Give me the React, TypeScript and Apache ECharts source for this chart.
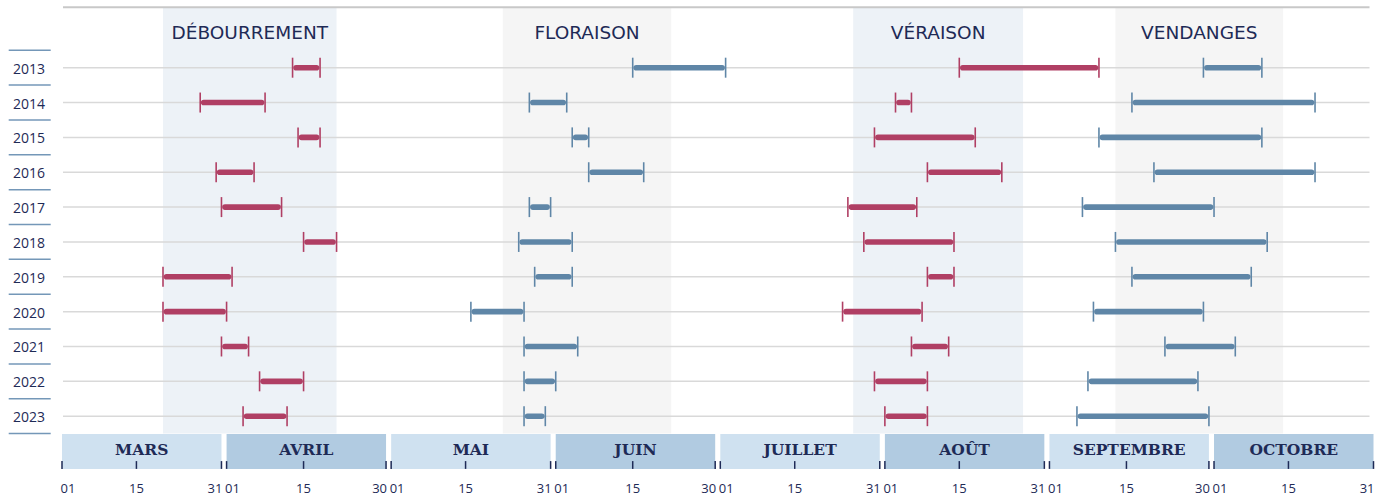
import React, { useEffect, useRef } from "react";
import * as echarts from "echarts";

// ---------- DATA ----------
const YEARS = ["2013", "2014", "2015", "2016", "2017", "2018", "2019", "2020", "2021", "2022", "2023"];
const MONTHS = ["MARS", "AVRIL", "MAI", "JUIN", "JUILLET", "AOÛT", "SEPTEMBRE", "OCTOBRE"];
const MONTH_DAYS = [31, 30, 31, 30, 31, 31, 30, 31];
const DAY_TICKS = [1, 15]; // plus the last day of each month
const PHASES = ["DÉBOURREMENT", "FLORAISON", "VÉRAISON", "VENDANGES"];
const PHASE_WINDOWS = [
  ["03-20", "04-21"],
  ["05-22", "06-22"],
  ["07-26", "08-27"],
  ["09-13", "10-14"],
];
const DEBOURREMENT = [
  ["04-13", "04-18"], ["03-27", "04-08"], ["04-14", "04-18"], ["03-30", "04-06"],
  ["03-31", "04-11"], ["04-15", "04-21"], ["03-20", "04-02"], ["03-20", "04-01"],
  ["03-31", "04-05"], ["04-07", "04-15"], ["04-04", "04-12"],
];
const FLORAISON = [
  ["06-15", "07-02"], ["05-27", "06-03"], ["06-04", "06-07"], ["06-07", "06-17"],
  ["05-27", "05-31"], ["05-25", "06-04"], ["05-28", "06-04"], ["05-16", "05-26"],
  ["05-26", "06-05"], ["05-26", "06-01"], ["05-26", "05-30"],
];
const VERAISON = [
  ["08-15", "09-10"], ["08-03", "08-06"], ["07-30", "08-18"], ["08-09", "08-23"],
  ["07-25", "08-07"], ["07-28", "08-14"], ["08-09", "08-14"], ["07-24", "08-08"],
  ["08-06", "08-13"], ["07-30", "08-09"], ["08-01", "08-09"],
];
const VENDANGES = [
  ["09-29", "10-10"], ["09-16", "10-20"], ["09-10", "10-10"], ["09-20", "10-20"],
  ["09-07", "10-01"], ["09-13", "10-11"], ["09-16", "10-08"], ["09-09", "09-29"],
  ["09-22", "10-05"], ["09-08", "09-28"], ["09-06", "09-30"],
];
const PHASE_DATA = [DEBOURREMENT, FLORAISON, VERAISON, VENDANGES];

// ---------- SCALE HELPERS ----------
const FIRST_MONTH = 3;
const W = 0.969; // fraction of a month slot used by the month (rest is the gap)
const X_MAX = MONTHS.length - 1 + W;
const Y_MIN = -1.713;
const Y_MAX = YEARS.length - 0.5;

function dayVal(m: number, d: number) {
  return m + ((d - 1) / (MONTH_DAYS[m] - 1)) * W;
}
function toVal(md: string) {
  const [mm, dd] = md.split("-").map(Number);
  return dayVal(mm - FIRST_MONTH, dd);
}

const NAVY = "#1e2a56";
const RED = "#b03f64";
const BLUE = "#5f86a7";

export default function App() {
  const ref = useRef<HTMLDivElement>(null);
  useEffect(() => {
    if (!ref.current) return;
    const chart = echarts.init(ref.current, undefined, { renderer: "svg" });

    const bandData = PHASE_WINDOWS.map((w, i) => [toVal(w[0]), toVal(w[1]), i]);
    const rowData = YEARS.map((_, i) => [0, i]);
    const barData: number[][] = [];
    PHASE_DATA.forEach((arr, p) =>
      arr.forEach((r, i) => barData.push([toVal(r[0]), toVal(r[1]), i, p]))
    );
    const monthData = MONTHS.map((_, i) => [i, i + W]);
    const tickData: any[] = [];
    MONTHS.forEach((_, m) => {
      const days = [...DAY_TICKS, MONTH_DAYS[m]];
      days.forEach((d, k) => tickData.push([dayVal(m, d), d, k]));
    });

    const option: any = {
      animation: false,
      backgroundColor: "#ffffff",
      grid: { left: 62, top: 8, width: 1311.5, height: 425.6 },
      xAxis: { type: "value", min: 0, max: X_MAX, show: false },
      yAxis: { type: "value", min: Y_MIN, max: Y_MAX, inverse: true, show: false },
      series: [
        {
          type: "custom",
          name: "phases",
          silent: true,
          clip: false,
          z: 1,
          data: bandData,
          renderItem: (params: any, api: any) => {
            const p0 = api.coord([api.value(0), Y_MIN]);
            const p1 = api.coord([api.value(1), Y_MAX]);
            const i = params.dataIndex;
            return {
              type: "group",
              children: [
                {
                  type: "rect",
                  shape: { x: p0[0], y: p0[1], width: p1[0] - p0[0], height: p1[1] - p0[1] },
                  style: { fill: i % 2 === 0 ? "#edf2f7" : "#f5f5f5" },
                },
                {
                  type: "text",
                  x: (p0[0] + p1[0]) / 2,
                  y: p0[1] + 24.5,
                  style: {
                    text: PHASES[i],
                    fill: NAVY,
                    font: '18.5px "DejaVu Sans"',
                    align: "center",
                    verticalAlign: "middle",
                    textAlign: "center",
                    textVerticalAlign: "middle",
                  },
                },
              ],
            };
          },
        },
        {
          type: "custom",
          name: "rows",
          silent: true,
          clip: false,
          z: 2,
          data: rowData,
          renderItem: (params: any, api: any) => {
            const i = params.dataIndex;
            const cs = params.coordSys;
            const a = api.coord([0, api.value(1)]);
            const b = api.coord([X_MAX, api.value(1)]);
            const sepTop = api.coord([0, api.value(1) - 0.5]);
            const sepBot = api.coord([0, api.value(1) + 0.5]);
            const children: any[] = [
              {
                type: "line",
                shape: { x1: a[0] + 1, y1: a[1], x2: b[0] - 4, y2: b[1] },
                style: { stroke: "#d9d9d9", lineWidth: 1.5 },
              },
              {
                type: "text",
                x: cs.x - 33,
                y: a[1] + 0.5,
                style: {
                  text: YEARS[i],
                  fill: NAVY,
                  font: '14px "Open Sans"',
                  align: "center",
                  verticalAlign: "middle",
                  textAlign: "center",
                  textVerticalAlign: "middle",
                },
              },
              {
                type: "line",
                shape: { x1: 8.7, y1: sepTop[1], x2: 50.7, y2: sepTop[1] },
                style: { stroke: "#7497b8", lineWidth: 1.5 },
              },
            ];
            if (i === YEARS.length - 1) {
              children.push({
                type: "line",
                shape: { x1: 8.7, y1: sepBot[1], x2: 50.7, y2: sepBot[1] },
                style: { stroke: "#7497b8", lineWidth: 1.5 },
              });
            }
            if (i === 0) {
              children.push({
                type: "line",
                shape: { x1: cs.x + 1, y1: cs.y - 0.7, x2: b[0] - 4, y2: cs.y - 0.7 },
                style: { stroke: "#c8c8c8", lineWidth: 2 },
              });
            }
            return { type: "group", children };
          },
        },
        {
          type: "custom",
          name: "bars",
          silent: true,
          clip: false,
          z: 3,
          data: barData,
          renderItem: (params: any, api: any) => {
            const s = api.coord([api.value(0), api.value(2)]);
            const e = api.coord([api.value(1), api.value(2)]);
            const color = api.value(3) % 2 === 0 ? RED : BLUE;
            const y = s[1];
            return {
              type: "group",
              children: [
                {
                  type: "line",
                  shape: { x1: s[0] + 3.5, y1: y, x2: e[0] - 3.5, y2: y },
                  style: { stroke: color, lineWidth: 5.6, lineCap: "round" },
                },
                {
                  type: "line",
                  shape: { x1: s[0], y1: y - 10, x2: s[0], y2: y + 10 },
                  style: { stroke: color, lineWidth: 1.6 },
                },
                {
                  type: "line",
                  shape: { x1: e[0], y1: y - 10, x2: e[0], y2: y + 10 },
                  style: { stroke: color, lineWidth: 1.6 },
                },
              ],
            };
          },
        },
        {
          type: "custom",
          name: "months",
          silent: true,
          clip: false,
          z: 4,
          data: monthData,
          renderItem: (params: any, api: any) => {
            const i = params.dataIndex;
            const cs = params.coordSys;
            const bottom = cs.y + cs.height;
            const a = api.coord([api.value(0), Y_MAX]);
            const b = api.coord([api.value(1), Y_MAX]);
            return {
              type: "group",
              children: [
                {
                  type: "rect",
                  shape: { x: a[0], y: bottom + 0.5, width: b[0] - a[0], height: 34.8 },
                  style: { fill: i % 2 === 0 ? "#cfe1f0" : "#b1cbe1" },
                },
                {
                  type: "text",
                  x: (a[0] + b[0]) / 2,
                  y: bottom + 16,
                  style: {
                    text: MONTHS[i],
                    fill: NAVY,
                    font: 'bold 15.5px "DejaVu Serif"',
                    align: "center",
                    verticalAlign: "middle",
                    textAlign: "center",
                    textVerticalAlign: "middle",
                  },
                },
              ],
            };
          },
        },
        {
          type: "custom",
          name: "ticks",
          silent: true,
          clip: false,
          z: 5,
          data: tickData,
          renderItem: (params: any, api: any) => {
            const cs = params.coordSys;
            const bottom = cs.y + cs.height;
            const p = api.coord([api.value(0), Y_MAX]);
            const d = api.value(1);
            const k = api.value(2);
            const align = k === 0 ? "left" : k === 1 ? "center" : "right";
            const tx = k === 0 ? p[0] - 1.5 : k === 2 ? p[0] + 1 : p[0];
            return {
              type: "group",
              children: [
                {
                  type: "line",
                  shape: { x1: p[0], y1: bottom + 27.5, x2: p[0], y2: bottom + 35.3 },
                  style: { stroke: NAVY, lineWidth: 1.5 },
                },
                {
                  type: "text",
                  x: tx,
                  y: bottom + 54,
                  style: {
                    text: d < 10 ? "0" + d : String(d),
                    fill: NAVY,
                    font: '13px "Open Sans"',
                    align,
                    verticalAlign: "middle",
                    textAlign: align,
                    textVerticalAlign: "middle",
                  },
                },
              ],
            };
          },
        },
      ],
    };

    chart.setOption(option);
    return () => chart.dispose();
  }, []);

  return (
    <div
      ref={ref}
      style={{ position: "fixed", left: 0, top: 0, width: 1386, height: 497, background: "#fff" }}
    />
  );
}
